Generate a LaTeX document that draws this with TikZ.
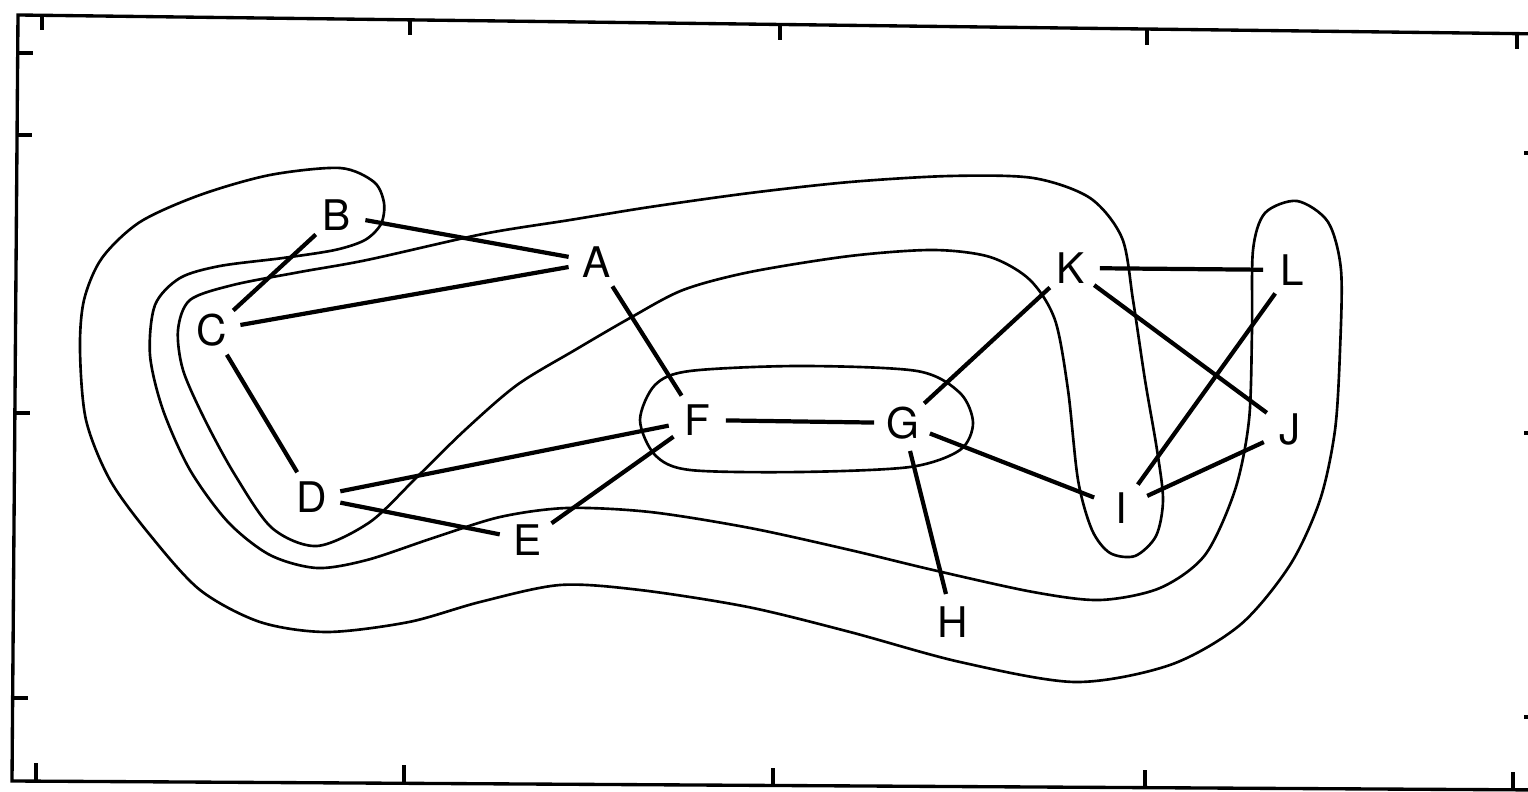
\documentclass[tikz,border=0pt]{standalone}
\usepackage{fontspec}
\setmainfont{TeX Gyre Heros}

\begin{document}
\begin{tikzpicture}[x=0.01cm,y=-0.01cm,
    vertex/.style={circle,minimum size=16pt,inner sep=0pt,font=\fontsize{12}{14}\selectfont},
    edge/.style={line width=1.2pt},
    cluster/.style={line width=0.75pt},
    frame/.style={line width=0.95pt}]

\useasboundingbox (0,0) rectangle (1528,792);

\pgfmathsetmacro\ticklen{15}

\draw[frame] (1545,34) -- (18,15) -- (12,781) -- (1545,790);
\foreach \tx/\ty in {42/15, 410/20, 780/25, 1147/30, 1517/34}
    \draw[frame] (\tx,\ty) -- ++(0,\ticklen);
\foreach \tx/\ty in {36/781, 404/783, 773/786, 1145/788, 1513/790}
    \draw[frame] (\tx,\ty) -- ++(0,-\ticklen-3);
\foreach \tx/\ty in {18/53, 17/135, 15/413, 13/698}
    \draw[frame] (\tx,\ty) -- ++(\ticklen,0);
\foreach \ty in {153, 433, 717}
    \draw[frame] (1545,\ty) -- (1524,\ty);

\node[vertex] (A) at (597,262) {A};
\node[vertex] (B) at (337,215) {B};
\node[vertex] (C) at (212,330) {C};
\node[vertex] (D) at (312,497) {D};
\node[vertex] (E) at (528,540) {E};
\node[vertex] (F) at (697,420) {F};
\node[vertex] (G) at (903,423) {G};
\node[vertex] (H) at (953,622) {H};
\node[vertex] (I) at (1121,508) {I};
\node[vertex] (J) at (1290,430) {J};
\node[vertex] (K) at (1071,268) {K};
\node[vertex] (L) at (1292,270) {L};

\foreach \a/\b in {B/A, B/C, C/A, C/D, A/F, D/F, D/E, E/F, F/G,
                   G/K, G/I, G/H, K/L, K/J, L/I, J/I}
    \draw[edge] (\a) -- (\b);

\draw[cluster] plot[smooth cycle] coordinates {
    (340,168) (270,175) (200,195) (140,222) (102,258) (84,300) (80,350)
    (86,420) (110,480) (150,535) (200,590) (260,622) (327,632) (409,622)
    (480,602) (560,585) (640,590) (748,607) (850,632) (960,662) (1075,682)
    (1170,665) (1240,625) (1290,565) (1320,500) (1335,430) (1340,350)
    (1341,270) (1328,222) (1297,201) (1265,213) (1253,250) (1252,330)
    (1249,420) (1235,490) (1205,555) (1160,588) (1100,600) (1033,592)
    (933,570) (850,550) (750,528) (650,512) (567,508) (500,517) (433,538)
    (367,560) (317,568) (270,555) (228,522) (190,470) (163,410) (150,355)
    (155,305) (180,278) (220,266) (283,258) (335,250) (365,240) (381,224)
    (384,203) (374,182)};

\draw[cluster] plot[smooth cycle] coordinates {
    (317,546) (272,528) (235,475) (205,420) (183,370) (178,330) (190,300)
    (233,285) (300,272) (367,260) (483,234) (570,220) (650,207) (750,193)
    (850,182) (950,176) (1033,178) (1090,198) (1122,238) (1133,300)
    (1145,380) (1157,450) (1163,500) (1156,536) (1135,556) (1110,553)
    (1092,530) (1078,480) (1068,390) (1055,320) (1030,280) (990,257)
    (933,250) (850,256) (750,272) (683,290) (630,318) (575,350) (517,385)
    (465,430) (417,477) (370,522)};

\draw[cluster] plot[smooth cycle] coordinates {
    (640,420) (655,385) (690,371) (800,366) (917,371) (960,393) (973,423)
    (960,450) (910,467) (800,472) (690,470) (655,455)};

\end{tikzpicture}
\end{document}
